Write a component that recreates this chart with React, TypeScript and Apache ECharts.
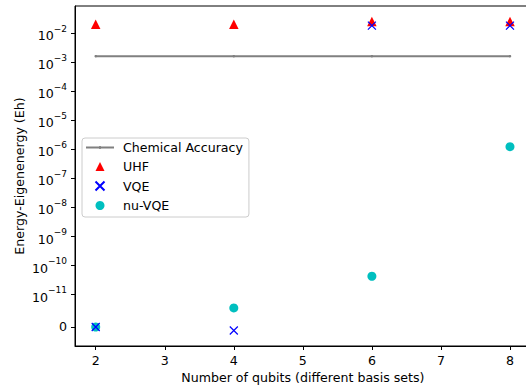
import React, { useEffect, useRef } from "react";
import * as echarts from "echarts";

const qubits = [2, 4, 6, 8];
const chemicalAccuracy = [0.0016, 0.0016, 0.0016, 0.0016];
const uhf = [0.02, 0.02, 0.025, 0.025];
const vqe = [0, -1.1e-12, 0.018, 0.018];
const nuVqe = [0, 5.9e-12, 4.3e-11, 1.23e-6];
const xTicks = [2, 3, 4, 5, 6, 7, 8];
const yTickExponents = [-11, -10, -9, -8, -7, -6, -5, -4, -3, -2];

const LINTHRESH = 1e-11;
const LINSCALE = 1 / (1 - 1 / 10);
function symlog(v: number): number {
  const a = Math.abs(v);
  if (a <= LINTHRESH) return (v / LINTHRESH) * LINSCALE;
  return Math.sign(v) * (LINSCALE + Math.log10(a / LINTHRESH));
}

const FONT = "DejaVu Sans";
const FS = 12.6;
const TRI = "path://M5,0L10,10L0,10Z";
const CROSS = "path://M0,0L10,10M10,0L0,10";
const LINE_ICON = "path://M0,3.6H28V5.4H0Z M13.2,3.1H14.8V5.9H13.2Z";

export default function App() {
  const ref = useRef<HTMLDivElement>(null);
  useEffect(() => {
    const chart = echarts.init(ref.current!, null, { renderer: "svg" });
    const allT = [...uhf, ...vqe, ...nuVqe, ...chemicalAccuracy].map(symlog);
    const tMin = Math.min(...allT);
    const tMax = Math.max(...allT);
    const pad = (tMax - tMin) * 0.05;
    const yTickVals = [0, ...yTickExponents.map((e) => symlog(Math.pow(10, e)))];
    const labelFor = (val: number) => {
      if (Math.abs(val) < 1e-6) return "0";
      const idx = yTickVals.findIndex((t) => Math.abs(t - val) < 1e-6);
      if (idx <= 0) return "";
      return "{b|10}{s|\u2212" + String(-yTickExponents[idx - 1]) + "}";
    };
    const mk = (arr: number[]) => qubits.map((q, i) => [q, symlog(arr[i])]);
    chart.setOption({
      animation: false,
      textStyle: { fontFamily: FONT },
      grid: {
        left: 75,
        right: -4.7,
        top: 6,
        bottom: 40,
        show: true,
        borderColor: "#000",
        borderWidth: 1,
        containLabel: false,
        outerBoundsMode: "none",
      },
      legend: {
        orient: "vertical",
        left: 82,
        top: 138,
        padding: [3, 6, 5, 4],
        itemGap: 6,
        itemWidth: 28,
        itemHeight: 9,
        borderColor: "#cccccc",
        borderWidth: 1,
        borderRadius: 3,
        backgroundColor: "rgba(255,255,255,0.8)",
        textStyle: { fontFamily: FONT, fontSize: FS, color: "#000", padding: [0, 0, 0, 4] },
        data: [
          { name: "Chemical Accuracy", icon: LINE_ICON, itemStyle: { color: "#808080", opacity: 1 } },
          { name: "UHF", icon: TRI, itemStyle: { opacity: 1 } },
          { name: "VQE", icon: CROSS, itemStyle: { opacity: 1 } },
          { name: "nu-VQE", icon: "circle", itemStyle: { opacity: 1 } },
        ],
      },
      xAxis: {
        type: "value",
        min: 1.7,
        max: 8.3,
        name: "Number of qubits (different basis sets)",
        nameLocation: "middle",
        nameGap: 25,
        nameMoveOverlap: false,
        nameTextStyle: { fontFamily: FONT, fontSize: FS, color: "#000" },
        axisLine: { show: true, onZero: false, lineStyle: { color: "#000", width: 1 } },
        axisTick: { show: true, length: 4, lineStyle: { color: "#000" }, customValues: xTicks },
        axisLabel: {
          customValues: xTicks,
          margin: 8,
          fontFamily: FONT,
          fontSize: FS,
          color: "#000",
        },
        splitLine: { show: false },
      },
      yAxis: {
        type: "value",
        min: tMin - pad,
        max: tMax + pad,
        name: "Energy-Eigenenergy (Eh)",
        nameLocation: "middle",
        nameGap: 49,
        nameMoveOverlap: false,
        nameTextStyle: { fontFamily: FONT, fontSize: FS, color: "#000" },
        axisLine: { show: true, onZero: false, lineStyle: { color: "#000", width: 1 } },
        axisTick: { show: true, length: 4, lineStyle: { color: "#000" }, customValues: yTickVals },
        axisLabel: {
          customValues: yTickVals,
          margin: 8,
          fontFamily: FONT,
          fontSize: FS,
          color: "#000",
          formatter: (v: number) => labelFor(v),
          rich: {
            b: { fontFamily: FONT, fontSize: FS, color: "#000", lineHeight: 18, verticalAlign: "bottom" },
            s: { fontFamily: FONT, fontSize: 9, color: "#000", lineHeight: 18, verticalAlign: "top" },
          },
        },
        splitLine: { show: false },
      },
      series: [
        {
          name: "Chemical Accuracy",
          type: "line",
          data: mk(chemicalAccuracy),
          symbol: "circle",
          symbolSize: 2.5,
          showSymbol: true,
          lineStyle: { color: "#808080", width: 2 },
          itemStyle: { color: "#808080", opacity: 1 },
          z: 2,
        },
        {
          name: "UHF",
          type: "scatter",
          data: mk(uhf),
          symbol: TRI,
          symbolSize: 9.5,
          symbolKeepAspect: true,
          itemStyle: { color: "#ff0000", opacity: 1 },
          z: 3,
        },
        {
          name: "nu-VQE",
          type: "scatter",
          data: mk(nuVqe),
          symbol: "circle",
          symbolSize: 9,
          itemStyle: { color: "#00bfbf", opacity: 1 },
          z: 4,
        },
        {
          name: "VQE",
          type: "scatter",
          data: mk(vqe),
          symbol: CROSS,
          symbolSize: 8,
          itemStyle: { color: "none", borderColor: "#0000ff", borderWidth: 1.2, opacity: 1 },
          z: 5,
        },
      ],
    });
    return () => chart.dispose();
  }, []);
  return (
    <div
      ref={ref}
      style={{ position: "fixed", left: 0, top: 0, width: 526, height: 386, background: "#fff" }}
    />
  );
}
